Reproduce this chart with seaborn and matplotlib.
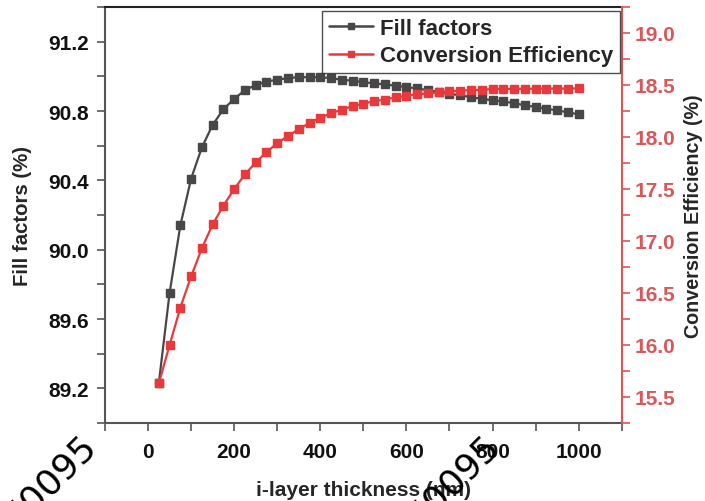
import matplotlib
matplotlib.use("Agg")
import matplotlib.pyplot as plt
import seaborn as sns
import pandas as pd
from matplotlib.ticker import MultipleLocator
from matplotlib.lines import Line2D

thickness = [25, 50, 75, 100, 125, 150, 175, 200, 225, 250,
             275, 300, 325, 350, 375, 400, 425, 450, 475, 500,
             525, 550, 575, 600, 625, 650, 675, 700, 725, 750,
             775, 800, 825, 850, 875, 900, 925, 950, 975, 1000]
fill_factor = [89.23, 89.75, 90.14, 90.41, 90.59, 90.72, 90.81, 90.87, 90.92, 90.95,
               90.97, 90.98, 90.99, 90.995, 90.995, 90.995, 90.99, 90.98, 90.975, 90.966,
               90.96, 90.953, 90.946, 90.938, 90.93, 90.92, 90.91, 90.90, 90.89, 90.88,
               90.87, 90.862, 90.855, 90.845, 90.833, 90.823, 90.813, 90.803, 90.793, 90.78]
efficiency = [15.63, 16.00, 16.36, 16.66, 16.93, 17.16, 17.34, 17.50, 17.64, 17.755,
              17.855, 17.94, 18.01, 18.075, 18.135, 18.185, 18.228, 18.264, 18.296, 18.32,
              18.344, 18.36, 18.38, 18.398, 18.41, 18.42, 18.43, 18.44, 18.446, 18.45,
              18.456, 18.46, 18.462, 18.463, 18.464, 18.465, 18.465, 18.466, 18.466, 18.467]

series_names = ["Fill factors", "Conversion Efficiency"]
x_label = "i-layer thickness (nm)"
y_label = "Fill factors (%)"
y2_label = "Conversion Efficiency (%)"
watermark = "170095"
x_ticks = [0, 200, 400, 600, 800, 1000]
y_ticks = [89.2, 89.6, 90.0, 90.4, 90.8, 91.2]
y2_ticks = [15.5, 16.0, 16.5, 17.0, 17.5, 18.0, 18.5, 19.0]

df = pd.DataFrame({"x": thickness, "ff": fill_factor, "pce": efficiency})

sns.set_theme(style="ticks")
plt.rcParams["font.family"] = ["Liberation Sans", "DejaVu Sans"]
plt.rcParams["font.weight"] = "bold"

BLACK = "#474747"
RED = "#e8393c"
AXRED = "#d9575a"

fig = plt.figure(figsize=(7.05, 5.02), dpi=100)
ax = fig.add_axes([105 / 705, 78 / 502, (621.7 - 105) / 705, (424 - 8) / 502])
ax2 = ax.twinx()

sns.lineplot(data=df, x="x", y="ff", ax=ax, color=BLACK, marker="s",
             markersize=5.5, markeredgewidth=1, markeredgecolor=BLACK,
             linewidth=1.6, legend=False)
sns.lineplot(data=df, x="x", y="pce", ax=ax2, color=RED, marker="s",
             markersize=5.5, markeredgewidth=1, markeredgecolor=RED,
             linewidth=1.6, legend=False)

ax.set_xlim(-100, 1100)
ax.set_ylim(89.0, 91.4)
ax2.set_ylim(15.25, 19.25)

ax.xaxis.set_minor_locator(MultipleLocator(100))
ax.yaxis.set_minor_locator(MultipleLocator(0.2))
ax2.yaxis.set_minor_locator(MultipleLocator(0.25))

fs = 15
ax.set_xticks(x_ticks)
ax.set_xticklabels([str(v) for v in x_ticks], fontsize=fs, fontweight="bold")
ax.set_yticks(y_ticks)
ax.set_yticklabels([f"{v:.1f}" for v in y_ticks], fontsize=fs, fontweight="bold")
ax2.set_yticks(y2_ticks)
ax2.set_yticklabels([f"{v:.1f}" for v in y2_ticks], fontsize=fs, fontweight="bold", color=AXRED)

ax.set_xlabel(x_label, fontsize=15, fontweight="bold", labelpad=14)
ax.set_ylabel(y_label, fontsize=14.7, fontweight="bold", labelpad=12)
ax2.set_ylabel(y2_label, fontsize=14.2, fontweight="bold", labelpad=6)

for a in (ax, ax2):
    a.tick_params(which="both", direction="out", length=5.5, width=1.2)
ax.tick_params(axis="x", which="both", color="#555555", labelcolor="#111111", pad=8)
ax.tick_params(axis="y", which="both", color="#555555", labelcolor="#111111", pad=6)
ax2.tick_params(axis="y", which="both", color=AXRED, labelcolor=AXRED, pad=4)

for side in ["left", "bottom"]:
    ax.spines[side].set_color("#555555")
    ax.spines[side].set_linewidth(1.5)
ax.spines["top"].set_color("#222222")
ax.spines["top"].set_linewidth(1.5)
ax.spines["right"].set_visible(False)
ax2.spines["right"].set_color(AXRED)
ax2.spines["right"].set_linewidth(1.5)
ax2.spines["top"].set_visible(False)
ax2.spines["left"].set_visible(False)
ax2.spines["bottom"].set_visible(False)

handles = [
    Line2D([], [], color=BLACK, marker="s", markersize=5, linewidth=1.8),
    Line2D([], [], color=RED, marker="s", markersize=5, linewidth=1.8),
]
leg = ax2.legend(handles, series_names, loc="upper right", bbox_to_anchor=(0.996, 0.99),
                 borderaxespad=0.0, fancybox=False, frameon=True, handlelength=2.0,
                 handletextpad=0.3, borderpad=0.3, labelspacing=0.3,
                 prop={"size": 16, "weight": "bold"})
leg.get_frame().set_edgecolor("#222222")
leg.get_frame().set_linewidth(1.0)

for (px, py) in [(97, 447), (500, 447)]:
    fig.text(px / 705, (502 - py) / 502, watermark, rotation=45, rotation_mode="anchor",
             ha="right", va="baseline", fontsize=26, fontweight="normal",
             family="DejaVu Sans", color="black")

fig.savefig("out.png", dpi=100)
